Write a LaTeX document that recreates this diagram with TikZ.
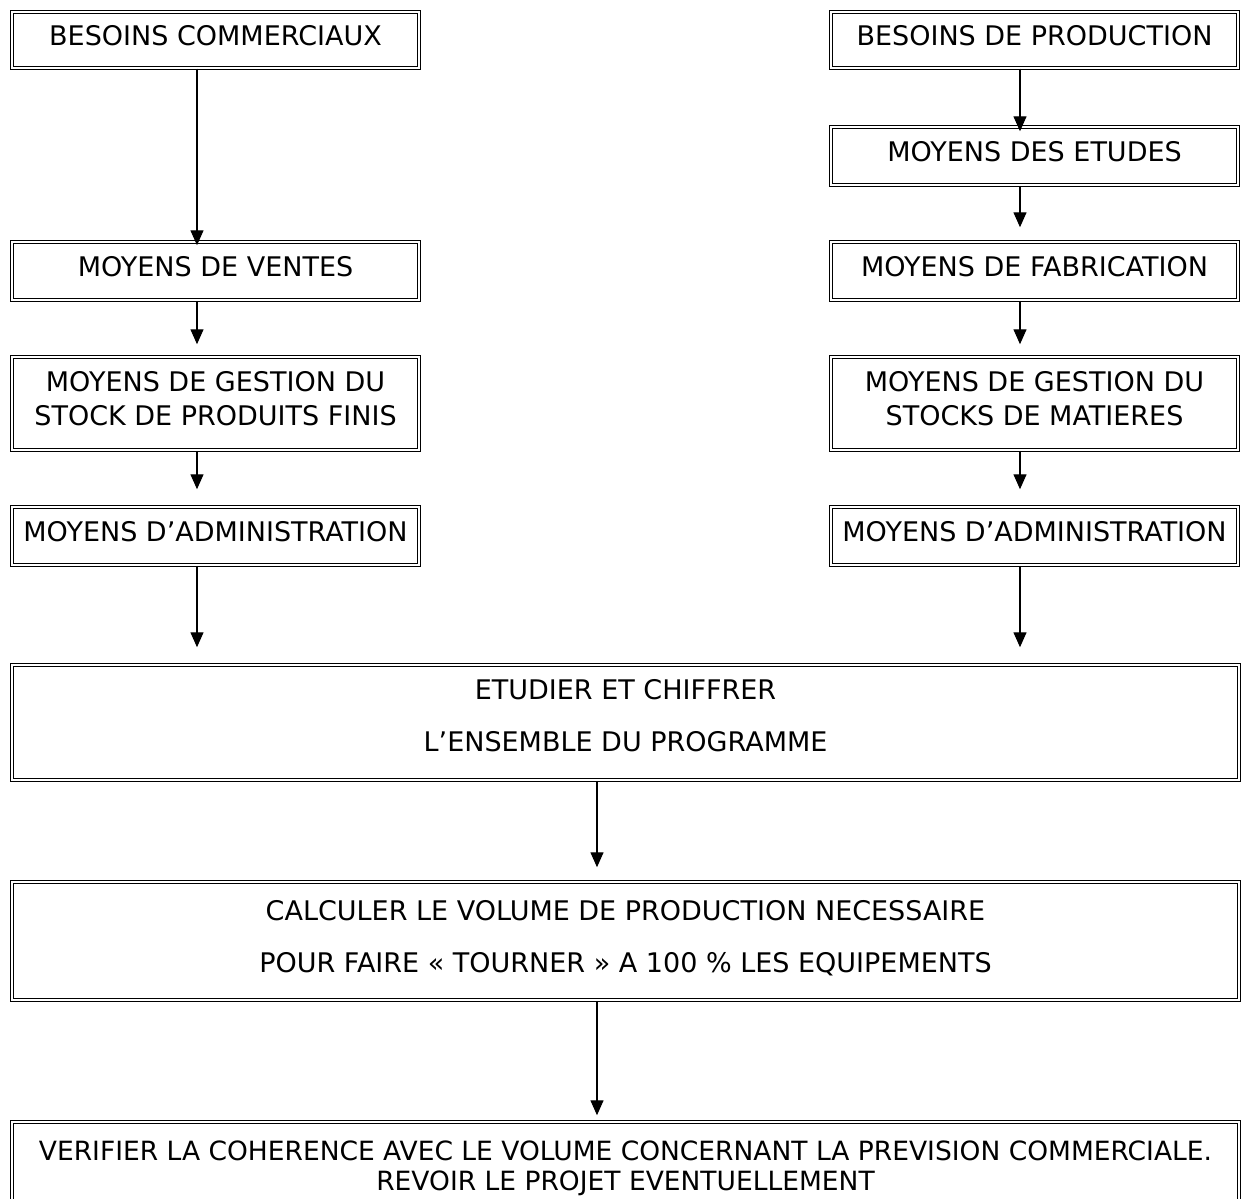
\documentclass[tikz,border=0pt]{standalone}
\usepackage{fontspec}
\setmainfont{DejaVu Sans}
\usetikzlibrary{arrows.meta}
\begin{document}
\begin{tikzpicture}
[boxDecorate/.style={shape=rectangle,draw,line width=1.5pt,double,double distance=1.8pt,%
    inner sep=0pt,align=center,text depth=10pt,minimum height=58pt,%
    font=\fontsize{27}{34}\selectfont},%
  sideBox/.style={boxDecorate,minimum width=407pt},%
  wideBox/.style={boxDecorate,minimum width=1227pt},%
  arrowDecorate/.style={-{Triangle[width=13pt,length=15pt]},line width=1.4pt},%
  x=1pt,y=-1pt]
\useasboundingbox (0,0) rectangle (1243,1199);
%% columns used by the arrows
\coordinate (colL) at (197,0);
\coordinate (colR) at (1020,0);
\coordinate (colC) at (597,0);
%% commercial side
\node (comm) at (215.5,40) [sideBox,minimum height=56pt] {BESOINS COMMERCIAUX};
\node (ventes) at (215.5,271) [sideBox] {MOYENS DE VENTES};
\node (gestL) at (215.5,403.5) [sideBox,minimum height=93pt] {MOYENS DE GESTION DU\\STOCK DE PRODUITS FINIS};
\node (adminL) at (215.5,536) [sideBox] {MOYENS D’ADMINISTRATION};
%% production side
\node (prod) at (1034.5,40) [sideBox,minimum height=56pt] {BESOINS DE PRODUCTION};
\node (etudes) at (1034.5,156) [sideBox] {MOYENS DES ETUDES};
\node (fab) at (1034.5,271) [sideBox] {MOYENS DE FABRICATION};
\node (gestR) at (1034.5,403.5) [sideBox,minimum height=93pt] {MOYENS DE GESTION DU\\STOCKS DE MATIERES};
\node (adminR) at (1034.5,536) [sideBox] {MOYENS D’ADMINISTRATION};
%% common part
\node (etudier) at (625.5,722.5) [wideBox,minimum height=115pt,text depth=15pt] {ETUDIER ET CHIFFRER\\[18pt]L’ENSEMBLE DU PROGRAMME};
\node (calculer) at (625.5,941) [wideBox,minimum height=118pt] {CALCULER LE VOLUME DE PRODUCTION NECESSAIRE\\[18pt]POUR FAIRE « TOURNER » A 100 \% LES EQUIPEMENTS};
\node (verifier) at (625.5,1172) [wideBox,minimum height=100pt,text depth=12pt,%
  font=\fontsize{26.5}{30}\selectfont] {VERIFIER LA COHERENCE AVEC LE VOLUME CONCERNANT LA PREVISION COMMERCIALE.\\REVOIR LE PROJET EVENTUELLEMENT};
%% arrows
\draw [arrowDecorate,shorten >=-4pt] (comm.south -| colL) -- (ventes.north -| colL);
\draw [arrowDecorate,shorten >=12pt] (ventes.south -| colL) -- (gestL.north -| colL);
\draw [arrowDecorate,shorten >=17pt] (gestL.south -| colL) -- (adminL.north -| colL);
\draw [arrowDecorate,shorten >=17pt] (adminL.south -| colL) -- (etudier.north -| colL);
\draw [arrowDecorate,shorten >=-5pt] (prod.south -| colR) -- (etudes.north -| colR);
\draw [arrowDecorate,shorten >=14pt] (etudes.south -| colR) -- (fab.north -| colR);
\draw [arrowDecorate,shorten >=12pt] (fab.south -| colR) -- (gestR.north -| colR);
\draw [arrowDecorate,shorten >=17pt] (gestR.south -| colR) -- (adminR.north -| colR);
\draw [arrowDecorate,shorten >=17pt] (adminR.south -| colR) -- (etudier.north -| colR);
\draw [arrowDecorate,shorten >=14pt] (etudier.south -| colC) -- (calculer.north -| colC);
\draw [arrowDecorate,shorten >=6pt] (calculer.south -| colC) -- (verifier.north -| colC);
\end{tikzpicture}
\end{document}
